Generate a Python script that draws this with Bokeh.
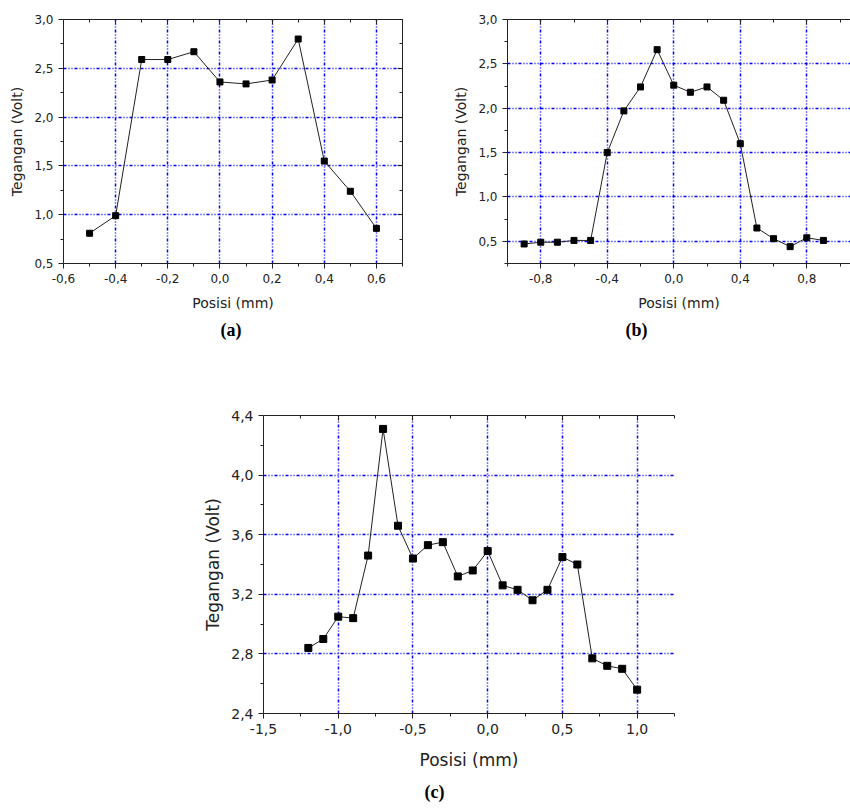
from bokeh.plotting import figure
from bokeh.models import Range1d, FixedTicker, LinearAxis, Title, Spacer
from bokeh.layouts import row, column
from bokeh.embed import file_html
from bokeh.resources import INLINE

# ---------------- data ----------------
# (a)
pos_a = [-0.5, -0.4, -0.3, -0.2, -0.1, 0.0, 0.1, 0.2, 0.3, 0.4, 0.5, 0.6]
volt_a = [0.81, 0.99, 2.59, 2.59, 2.67, 2.36, 2.34, 2.38, 2.80, 1.55, 1.24, 0.86]
xticks_a = [-0.6, -0.4, -0.2, 0.0, 0.2, 0.4, 0.6]
xlabels_a = ["-0,6", "-0,4", "-0,2", "0,0", "0,2", "0,4", "0,6"]
xminor_a = [-0.5, -0.3, -0.1, 0.1, 0.3, 0.5, 0.7]
yticks_a = [0.5, 1.0, 1.5, 2.0, 2.5, 3.0]
ylabels_a = ["0,5", "1,0", "1,5", "2,0", "2,5", "3,0"]
yminor_a = [0.75, 1.25, 1.75, 2.25, 2.75]

# (b)
pos_b = [-0.9, -0.8, -0.7, -0.6, -0.5, -0.4, -0.3, -0.2, -0.1, 0.0,
         0.1, 0.2, 0.3, 0.4, 0.5, 0.6, 0.7, 0.8, 0.9]
volt_b = [0.47, 0.49, 0.49, 0.51, 0.51, 1.50, 1.97, 2.24, 2.66, 2.26,
          2.18, 2.24, 2.09, 1.60, 0.65, 0.53, 0.44, 0.54, 0.51]
xticks_b = [-0.8, -0.4, 0.0, 0.4, 0.8]
xlabels_b = ["-0,8", "-0,4", "0,0", "0,4", "0,8"]
xminor_b = [-1.0, -0.6, -0.2, 0.2, 0.6, 1.0]
yticks_b = [0.5, 1.0, 1.5, 2.0, 2.5, 3.0]
ylabels_b = ["0,5", "1,0", "1,5", "2,0", "2,5", "3,0"]
yminor_b = [0.25, 0.75, 1.25, 1.75, 2.25, 2.75]

# (c)
pos_c = [-1.2, -1.1, -1.0, -0.9, -0.8, -0.7, -0.6, -0.5, -0.4, -0.3, -0.2, -0.1,
         0.0, 0.1, 0.2, 0.3, 0.4, 0.5, 0.6, 0.7, 0.8, 0.9, 1.0]
volt_c = [2.84, 2.90, 3.05, 3.04, 3.46, 4.31, 3.66, 3.44, 3.53, 3.55, 3.32, 3.36,
          3.49, 3.26, 3.23, 3.16, 3.23, 3.45, 3.40, 2.77, 2.72, 2.70, 2.56]
xticks_c = [-1.5, -1.0, -0.5, 0.0, 0.5, 1.0]
xlabels_c = ["-1,5", "-1,0", "-0,5", "0,0", "0,5", "1,0"]
xminor_c = [-1.25, -0.75, -0.25, 0.25, 0.75, 1.25]
yticks_c = [2.4, 2.8, 3.2, 3.6, 4.0, 4.4]
ylabels_c = ["2,4", "2,8", "3,2", "3,6", "4,0", "4,4"]
yminor_c = [2.6, 3.0, 3.4, 3.8, 4.2]

X_LABEL = "Posisi (mm)"
Y_LABEL = "Tegangan (Volt)"

SANS = "DejaVu Sans"
AXIS_COLOR = "#222222"
GRID_COLOR = "#0000ff"


def style_axis(ax, ticks, labels, minor, tick_size, inward=False, show_labels=True):
    ax.ticker = FixedTicker(ticks=ticks, minor_ticks=minor)
    ax.axis_line_color = AXIS_COLOR
    ax.major_tick_line_color = AXIS_COLOR
    ax.minor_tick_line_color = AXIS_COLOR
    if inward:
        ax.major_tick_in, ax.major_tick_out = 5, 0
        ax.minor_tick_in, ax.minor_tick_out = 3, 0
    else:
        ax.major_tick_in, ax.major_tick_out = 0, 5
        ax.minor_tick_in, ax.minor_tick_out = 0, 3
    if show_labels:
        ax.major_label_overrides = {t: s for t, s in zip(ticks, labels)}
        ax.major_label_text_font = SANS
        ax.major_label_text_font_size = tick_size
        ax.major_label_text_color = "#222222"
        ax.major_label_standoff = 5
    else:
        ax.major_label_text_font_size = "0px"
        ax.major_label_text_alpha = 0
        ax.major_label_standoff = 0


def make_panel(xs, ys, xr, yr, xt, xl, xm, yt, yl, ym, width, height,
               borders, tick_size, label_size, msize, tag, tag_offset,
               right_axis=True, label_standoff=6, xlabel_standoff=9, tag_standoff=8):
    p = figure(width=width, height=height, x_range=Range1d(*xr), y_range=Range1d(*yr),
               output_backend="svg", toolbar_location=None,
               min_border_left=borders[0], min_border_right=borders[1],
               min_border_top=borders[2], min_border_bottom=borders[3],
               background_fill_color="white", border_fill_color="white")
    p.outline_line_color = None

    style_axis(p.xaxis[0], xt, xl, xm, tick_size)
    style_axis(p.yaxis[0], yt, yl, ym, tick_size)
    p.xaxis.axis_label = X_LABEL
    p.yaxis.axis_label = Y_LABEL
    for ax in (p.xaxis[0], p.yaxis[0]):
        ax.axis_label_text_font = SANS
        ax.axis_label_text_font_size = label_size
        ax.axis_label_text_font_style = "normal"
        ax.axis_label_text_color = "#222222"
    p.xaxis[0].axis_label_standoff = xlabel_standoff
    p.yaxis[0].axis_label_standoff = label_standoff

    top = LinearAxis()
    style_axis(top, xt, xl, xm, tick_size, inward=True, show_labels=False)
    p.add_layout(top, "above")
    if right_axis:
        right = LinearAxis()
        style_axis(right, yt, yl, ym, tick_size, inward=True, show_labels=False)
        p.add_layout(right, "right")

    p.xgrid.ticker = FixedTicker(ticks=xt)
    p.ygrid.ticker = FixedTicker(ticks=yt)
    p.xgrid.grid_line_color = GRID_COLOR
    p.ygrid.grid_line_color = GRID_COLOR
    p.xgrid.grid_line_dash = "3 2 1 2 1 2"
    p.ygrid.grid_line_dash = "3 2 1 2 1 2"
    p.xgrid.grid_line_width = 1.5
    p.ygrid.grid_line_width = 1.5

    p.line(xs, ys, line_color="#222222", line_width=1)
    p.scatter(xs, ys, marker="square", size=msize, fill_color="black", line_color="black")

    p.add_layout(Title(text=tag, align="left", offset=tag_offset,
                       text_font="Liberation Serif", text_font_size="18px",
                       text_font_style="bold", text_color="black",
                       standoff=tag_standoff), "below")
    return p


pa = make_panel(pos_a, volt_a, (-0.6, 0.7), (0.5, 3.0),
                xticks_a, xlabels_a, xminor_a, yticks_a, ylabels_a, yminor_a,
                width=447, height=358, borders=(63, 45, 19, 92),
                tick_size="12px", label_size="14px", msize=6,
                tag="(a)", tag_offset=157, label_standoff=6)

pb = make_panel(pos_b, volt_b, (-1.0, 1.063), (0.25, 3.0),
                xticks_b, xlabels_b, xminor_b, yticks_b, ylabels_b, yminor_b,
                width=403, height=358, borders=(60, 0, 8, 95),
                tick_size="12px", label_size="14px", msize=6,
                tag="(b)", tag_offset=118, right_axis=False)

pc = make_panel(pos_c, volt_c, (-1.5, 1.25), (2.4, 4.4),
                xticks_c, xlabels_c, xminor_c, yticks_c, ylabels_c, yminor_c,
                width=504, height=450, borders=(73, 20, 57, 93),
                tick_size="14px", label_size="17px", msize=7,
                tag="(c)", tag_offset=161, right_axis=False, label_standoff=5,
                xlabel_standoff=13, tag_standoff=14)

layout = column(row(pa, pb), row(Spacer(width=190, height=450), pc))

open("out.html", "w").write(file_html(layout, INLINE))
